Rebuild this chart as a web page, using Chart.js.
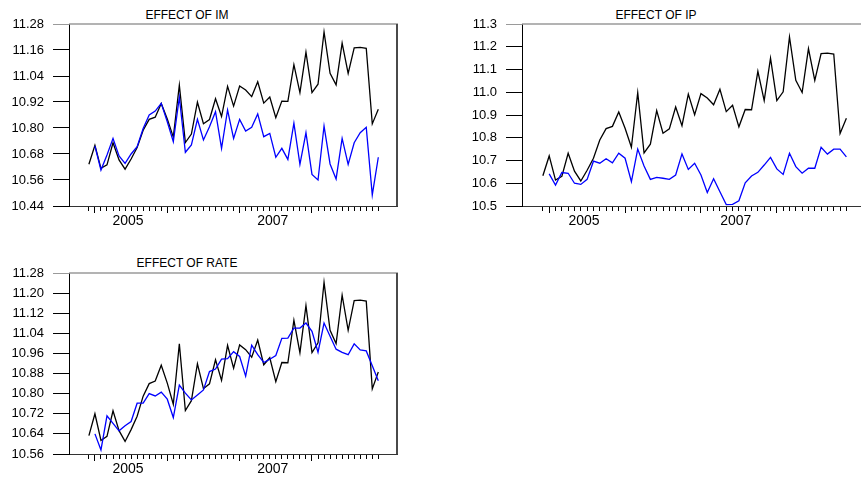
<!DOCTYPE html>
<html>
<head>
<meta charset="utf-8">
<script src="https://cdn.jsdelivr.net/npm/chart.js@4.4.1/dist/chart.umd.min.js"></script>
<style>
  html, body { margin: 0; padding: 0; background: #fff; width: 861px; height: 479px; overflow: hidden; position: relative; }
  canvas { position: absolute; }
  .ttl { position: absolute; width: 200px; text-align: center; font: 12px Arial, "Liberation Sans", sans-serif; line-height: 12px; color: #000; }
</style>
</head>
<body>
<div class="ttl" style="left:87px;top:9px">EFFECT OF IM</div>
<div class="ttl" style="left:556px;top:9px">EFFECT OF IP</div>
<div class="ttl" style="left:87px;top:257px">EFFECT OF RATE</div>
<canvas id="chartIM" width="420" height="235" style="left:0;top:0"></canvas>
<canvas id="chartIP" width="440" height="235" style="left:430px;top:0"></canvas>
<canvas id="chartRATE" width="420" height="229" style="left:0;top:250px"></canvas>
<script>
// monthly observations, Dec 2004 .. Dec 2008
const months = [
  '2004-12',
  '2005-01','2005-02','2005-03','2005-04','2005-05','2005-06','2005-07','2005-08','2005-09','2005-10','2005-11','2005-12',
  '2006-01','2006-02','2006-03','2006-04','2006-05','2006-06','2006-07','2006-08','2006-09','2006-10','2006-11','2006-12',
  '2007-01','2007-02','2007-03','2007-04','2007-05','2007-06','2007-07','2007-08','2007-09','2007-10','2007-11','2007-12',
  '2008-01','2008-02','2008-03','2008-04','2008-05','2008-06','2008-07','2008-08','2008-09','2008-10','2008-11','2008-12'
];
const yearLabels = ['2005', '2007'];

// actual series (black)
const actual = [
  10.633,
  10.720, 10.614, 10.630, 10.732, 10.653, 10.610, 10.657, 10.710, 10.790, 10.840, 10.850, 10.913,
  10.842, 10.758, 10.998, 10.733, 10.772, 10.919, 10.820, 10.839, 10.935, 10.853, 10.992, 10.901,
  10.994, 10.975, 10.945, 11.013, 10.915, 10.943, 10.848, 10.924, 10.923, 11.092, 10.963, 11.150,
  10.963, 11.002, 11.243, 11.052, 10.999, 11.192, 11.052, 11.170, 11.172, 11.168, 10.819, 10.886
];

// simulated effects (blue)
const effectIM = [
  null,
  10.717, 10.606, 10.675, 10.752, 10.671, 10.637, 10.680, 10.714, 10.798, 10.860, 10.878, 10.914,
  10.829, 10.737, 10.942, 10.688, 10.722, 10.840, 10.745, 10.806, 10.875, 10.706, 10.883, 10.752,
  10.840, 10.786, 10.803, 10.865, 10.760, 10.775, 10.665, 10.706, 10.655, 10.822, 10.632, 10.778,
  10.586, 10.560, 10.809, 10.634, 10.565, 10.752, 10.632, 10.732, 10.778, 10.803, 10.491, 10.665
];
const effectIP = [
  null,
  10.641, 10.592, 10.647, 10.644, 10.600, 10.595, 10.617, 10.697, 10.688, 10.708, 10.690, 10.732,
  10.710, 10.607, 10.750, 10.676, 10.617, 10.626, 10.622, 10.617, 10.636, 10.729, 10.661, 10.688,
  10.636, 10.559, 10.620, 10.563, 10.506, 10.507, 10.523, 10.602, 10.632, 10.648, 10.680, 10.714,
  10.663, 10.639, 10.732, 10.673, 10.644, 10.666, 10.666, 10.758, 10.728, 10.750, 10.750, 10.716
];
const effectRATE = [
  null,
  10.640, 10.576, 10.712, 10.682, 10.652, 10.672, 10.689, 10.762, 10.762, 10.800, 10.791, 10.806,
  10.778, 10.705, 10.834, 10.802, 10.775, 10.795, 10.815, 10.888, 10.898, 10.937, 10.939, 10.967,
  10.948, 10.870, 10.993, 10.955, 10.924, 10.937, 10.952, 11.020, 11.021, 11.061, 11.061, 11.081,
  11.048, 10.965, 11.081, 11.028, 10.977, 10.964, 10.955, 10.998, 10.974, 10.970, 10.911, 10.851
];

// y tick labels
const ticksIM   = [10.44, 10.56, 10.68, 10.80, 10.92, 11.04, 11.16, 11.28];
const ticksIP   = [10.5, 10.6, 10.7, 10.8, 10.9, 11.0, 11.1, 11.2, 11.3];
const ticksRATE = [10.56, 10.64, 10.72, 10.80, 10.88, 10.96, 11.04, 11.12, 11.20, 11.28];

const FONT = 'Arial, "Liberation Sans", sans-serif';

// label sits half a year after January
const yearPos = {};
yearLabels.forEach(y => { yearPos[months.indexOf(y + '-01') + 5.5] = y; });
const isJan = v => Number.isInteger(v) && months[v] && months[v].endsWith('-01');

// gray top edge and dark right edge of each frame
const framePlugin = {
  id: 'frame',
  afterDraw(chart) {
    const { ctx, chartArea: a } = chart;
    ctx.save();
    ctx.strokeStyle = '#9a9a9a';
    ctx.lineWidth = 1.5;
    ctx.beginPath();
    ctx.moveTo(a.left, a.top);
    ctx.lineTo(a.right + 1, a.top);
    ctx.stroke();
    ctx.strokeStyle = '#4a4a4a';
    ctx.lineWidth = 2;
    ctx.beginPath();
    ctx.moveTo(a.right, a.top);
    ctx.lineTo(a.right, a.bottom);
    ctx.stroke();
    ctx.restore();
  }
};

function makePanel(id, effect, yTicks, decimals, cfg) {
  const pts = arr => months.map((m, i) => ({ x: i, y: arr[i] }));
  new Chart(document.getElementById(id), {
    type: 'line',
    data: {
      datasets: [
        { label: 'effect', data: pts(effect), borderColor: '#0000ff', borderWidth: 1.3 },
        { label: 'actual', data: pts(actual), borderColor: '#000000', borderWidth: 1.3 }
      ]
    },
    options: {
      responsive: false,
      animation: false,
      events: [],
      elements: { point: { radius: 0 }, line: { tension: 0, fill: false } },
      layout: { padding: { top: cfg.padTop, right: cfg.padRight, bottom: 0, left: 0 } },
      plugins: { legend: { display: false }, tooltip: { enabled: false } },
      scales: {
        x: {
          type: 'linear',
          min: -3.3,
          max: 51.1,
          afterBuildTicks: s => {
            const vals = months.map((m, i) => i).concat(Object.keys(yearPos).map(Number));
            s.ticks = vals.sort((a, b) => a - b).map(v => ({ value: v }));
          },
          afterFit: s => { s.height = cfg.xHeight; },
          ticks: {
            autoSkip: false,
            maxRotation: 0,
            padding: 0,
            color: '#000',
            font: { family: FONT, size: 14 },
            callback: v => yearPos[v] || ''
          },
          grid: {
            drawOnChartArea: false,
            tickLength: 7,
            tickWidth: 1,
            tickColor: c => (yearPos[c.tick.value] ? 'rgba(0,0,0,0)' : '#000'),
            tickBorderDash: c => (isJan(c.tick.value) ? [] : [4, 40])
          },
          border: { display: true, color: '#333', width: 1 }
        },
        y: {
          min: yTicks[0],
          max: yTicks[yTicks.length - 1],
          afterBuildTicks: s => { s.ticks = yTicks.map(v => ({ value: v })); },
          afterFit: s => { s.width = cfg.yWidth; },
          ticks: {
            padding: 9,
            color: '#000',
            font: { family: FONT, size: 13 },
            callback: v => v.toFixed(decimals)
          },
          grid: {
            drawOnChartArea: false,
            tickLength: 16,
            tickWidth: 1,
            tickColor: c => (c.index === yTicks.length - 1 ? '#9a9a9a' : '#000')
          },
          border: { display: true, color: '#000', width: 1 }
        }
      }
    },
    plugins: [framePlugin]
  });
}

makePanel('chartIM', effectIM, ticksIM, 2, { yWidth: 69, padRight: 23, padTop: 24, xHeight: 29 });
makePanel('chartIP', effectIP, ticksIP, 1, { yWidth: 92, padRight: 4, padTop: 24, xHeight: 29 });
makePanel('chartRATE', effectRATE, ticksRATE, 2, { yWidth: 69, padRight: 23, padTop: 23, xHeight: 25 });
</script>
</body>
</html>
